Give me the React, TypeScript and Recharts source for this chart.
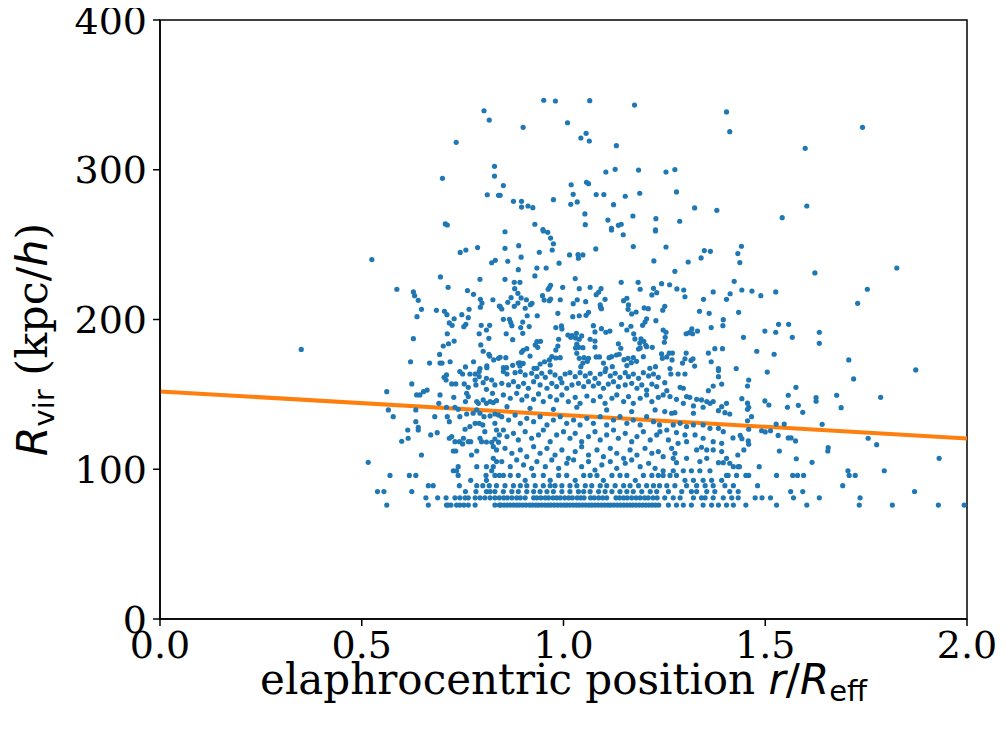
import { ScatterChart, Scatter, XAxis, YAxis, ReferenceLine, ReferenceArea } from "recharts";

// quantised R_vir levels seen as horizontal rows at the bottom of the cloud
const levels = [76.1, 80.9, 85.1, 89.0, 92.6, 95.9, 99.0];

const row76 = [0.562, 0.665, 0.71, 0.714, 0.721, 0.735, 0.743, 0.753, 0.764, 0.781, 0.83, 0.841,
  0.845, 0.853, 0.861, 0.868, 0.876, 0.884, 0.891, 0.899, 0.907, 0.916, 0.923, 0.931, 0.938, 0.946, 0.954,
  0.962, 0.969, 0.977, 0.985, 0.993, 1.001, 1.008, 1.016, 1.024, 1.032, 1.039, 1.047, 1.055, 1.063, 1.07,
  1.078, 1.086, 1.094, 1.102, 1.11, 1.117, 1.125, 1.133, 1.141, 1.149, 1.157, 1.165, 1.172, 1.18, 1.188,
  1.196, 1.204, 1.212, 1.22, 1.228, 1.236,
  1.26, 1.28, 1.297, 1.317, 1.346, 1.367, 1.384, 1.404, 1.421, 1.452, 1.528, 1.603, 1.733, 1.815, 1.929, 1.993];
const row81 = [0.659, 0.688, 0.709, 0.731, 0.743, 0.756, 0.764, 0.781, 0.793, 0.805, 0.818, 0.83, 0.841,
  0.852, 0.861, 0.872, 0.884, 0.893, 0.905, 0.926, 0.934, 0.944, 0.955, 0.963, 0.974, 0.983, 0.992, 1.003,
  1.013, 1.022, 1.034, 1.043, 1.051, 1.067, 1.076, 1.087, 1.097, 1.107, 1.13, 1.139, 1.149, 1.158, 1.169,
  1.18, 1.19, 1.201, 1.21, 1.222, 1.232,
  1.251, 1.272, 1.289, 1.322, 1.342, 1.351, 1.371, 1.396, 1.417, 1.433, 1.475, 1.492, 1.513, 1.57, 1.634, 1.735];
const row85 = [0.539, 0.555, 0.624, 0.757, 0.783, 0.809, 0.818, 0.83,
  0.851, 0.872, 0.888, 0.909, 0.926, 0.942, 0.959, 0.975, 0.996, 1.016, 1.037, 1.05, 1.066, 1.087, 1.103,
  1.12, 1.14, 1.157, 1.173, 1.194, 1.215, 1.231,
  1.26, 1.293, 1.317, 1.33, 1.355, 1.375, 1.412, 1.433, 1.563, 1.593, 1.87];
const row89 = [0.665, 0.677, 0.742, 0.785, 0.8, 0.816, 0.834,
  0.855, 0.876, 0.893, 0.909, 0.93, 0.95, 0.967, 0.979, 0.996, 1.016, 1.033, 1.054, 1.07, 1.091, 1.107,
  1.128, 1.149, 1.165, 1.186, 1.206, 1.223, 1.238,
  1.256, 1.276, 1.305, 1.33, 1.351, 1.371, 1.4, 1.421, 1.481, 1.692];
const row93 = [0.77, 0.809, 0.905, 0.967, 1.029, 1.099, 1.178, 1.301, 1.322, 1.346, 1.367, 1.392];
const row96 = [0.57, 0.618, 0.634, 0.739, 0.808, 0.83, 0.841,
  0.851, 0.868, 0.888, 0.926, 0.95, 0.988, 1.008, 1.05, 1.066, 1.083, 1.12, 1.14, 1.157, 1.198, 1.219, 1.235,
  1.247, 1.264, 1.28, 1.404, 1.408, 1.429, 1.452, 1.459, 1.528, 1.568, 1.58, 1.595, 1.708, 1.723];
const row99 = [0.727, 0.735, 0.822, 1.247, 1.272, 1.297, 1.317, 1.338, 1.363, 1.705, 1.795];
const levelRows = [row76, row81, row85, row89, row93, row96, row99];

// sparse upper part of the cloud (x = r/R_eff, y = R_vir)
const upperPoints = [
  [0.35, 180], [0.525, 240], [0.803, 339.4], [0.816, 333.2], [0.734, 318.3], [0.829, 302.3], [0.829, 295.8],
  [0.7, 294.3], [0.811, 283.3], [0.839, 282.9], [0.707, 263.8], [0.712, 263.1],
  [0.951, 346.4], [0.98, 345.9], [1.065, 346.1], [1.176, 343.2], [0.9, 328.3], [1.01, 331.4], [1.056, 324.3],
  [1.043, 321.2], [1.064, 319.2], [1.131, 316.1], [1.105, 298.5], [1.128, 300.3], [1.186, 299.8], [0.851, 289.4],
  [0.843, 282.9], [1.019, 290.0], [1.057, 291.6], [1.062, 290.7], [1.024, 283.6], [1.081, 283.4], [1.1, 283.4],
  [1.153, 282.3], [1.189, 284.3], [0.876, 278.9], [0.896, 278.9], [0.896, 275.1], [0.912, 275.8], [0.924, 274.7],
  [0.975, 280.0], [1.018, 276.9], [1.034, 278.5], [1.124, 276.7], [1.053, 270.5], [1.054, 263.3], [1.11, 266.4],
  [1.119, 260.9], [1.136, 262.9], [1.143, 263.6], [1.172, 269.1], [1.229, 267.3], [0.929, 263.6], [1.228, 259.8],
  [0.949, 260.0],
  [1.404, 338.6], [1.412, 325.4], [1.599, 314.3], [1.254, 298.5], [1.276, 300.1], [1.28, 285.2], [1.325, 274.5],
  [1.38, 272.9], [1.288, 265.6], [1.542, 268.0], [1.603, 275.8], [1.741, 328.3],
];

// middle band, roughly 165 < R_vir < 260
const middlePoints = [
  [0.587, 220.2], [0.628, 218.4], [0.631, 215.9], [0.64, 212.8], [0.648, 206.8], [0.637, 201.9], [0.628, 187.2],
  [0.621, 171.8], [0.668, 170.9], [0.694, 170.9], [0.699, 170.9], [0.693, 176.7], [0.719, 171.8], [0.695, 228.4],
  [0.714, 221.5], [0.744, 244.8], [0.758, 246.4], [0.787, 248], [0.822, 237.9], [0.831, 239.5], [0.793, 226.8],
  [0.762, 219.3], [0.777, 216.8], [0.794, 213.5], [0.798, 211.0], [0.794, 208.2], [0.825, 213.2], [0.841, 209.0],
  [0.685, 206.1], [0.705, 205.5], [0.711, 203.2], [0.729, 200.5], [0.748, 203.2], [0.766, 206.8], [0.764, 201.2],
  [0.717, 197.7], [0.724, 196.1], [0.758, 196.8], [0.753, 195.2], [0.796, 196.1], [0.809, 193.0], [0.817, 196.1],
  [0.791, 190.5], [0.815, 187.4], [0.712, 190.5], [0.715, 183.8], [0.729, 185.6], [0.702, 182.3], [0.795, 183.0],
  [0.801, 178.8], [0.815, 176.8], [0.817, 175.6], [0.827, 173.0], [0.839, 174.1], [0.757, 168.3], [0.777, 171.8],
  [0.793, 167.2], [0.81, 169.0], [0.81, 167.8],
  [0.855, 258.6], [0.95, 259.1], [0.961, 258.2], [0.968, 254.4], [0.975, 250.6], [0.972, 246.4], [0.889, 249.3],
  [0.855, 247.5], [0.895, 241.6], [0.862, 238.9], [0.94, 244.9], [1.015, 243.1], [1.036, 243.3], [1.037, 240.9],
  [1.048, 243.1], [1.08, 247.1], [1.119, 259.8], [1.148, 256.6], [1.173, 248.7], [1.228, 259.1], [1.224, 239.1],
  [0.989, 237.6], [0.934, 234.4], [0.957, 234.4], [0.888, 233.3], [0.929, 229.1], [0.855, 226.8], [0.878, 224.8],
  [0.892, 224.8], [0.879, 220.6], [1.029, 227.3], [0.965, 221.3], [0.968, 222.8], [0.962, 220.2], [0.998, 221.5],
  [1.039, 220.6], [1.066, 221.5], [1.143, 224.8], [1.185, 224.8], [1.19, 220.2], [1.223, 220.8], [1.231, 217.9],
  [1.219, 216.4], [1.087, 218.2], [1.093, 220.6], [1.081, 216.6], [1.103, 213.5], [1.091, 209.7], [1.094, 207.2],
  [1.055, 211.9], [1.034, 213.2], [1.024, 210.6], [0.992, 213.2], [0.948, 215.9], [0.952, 213.0], [0.965, 212.6],
  [0.968, 213.7], [0.87, 214.6], [0.862, 211.5], [0.878, 208.8], [0.887, 211.0], [0.887, 217.5], [0.895, 214.4],
  [0.908, 213.2], [0.905, 207.5], [0.918, 209.9], [0.922, 210.8], [0.843, 208.6], [0.847, 207.0], [0.91, 202.5],
  [0.935, 202.5], [0.986, 204.1], [1.023, 201.9], [1.039, 202.5], [1.056, 202.8], [1.062, 204.8], [1.092, 208.0],
  [1.149, 212.6], [1.157, 214.2], [1.161, 209.7], [1.16, 206.8], [1.169, 203.7], [1.18, 205.0], [1.2, 207.7],
  [1.21, 207.2], [1.206, 200.5], [1.202, 198.3], [1.196, 196.1], [1.229, 199.2], [0.851, 200.1], [0.866, 200.1],
  [0.869, 198.1], [0.872, 195.9], [0.899, 198.3], [0.894, 194.6], [0.915, 195.3], [0.858, 190.5], [0.874, 186.5],
  [0.899, 190.8], [0.981, 194.6], [0.995, 195.7], [0.996, 193.7], [1.021, 189.3], [1.032, 190.8], [1.03, 187.7],
  [1.039, 186.8], [1.045, 189.0], [1.074, 195.9], [1.078, 191.7], [1.094, 193.9], [1.105, 191.5], [1.115, 192.3],
  [1.144, 196.8], [1.157, 193.0], [1.167, 195.5], [1.174, 190.5], [1.136, 183.8], [1.142, 180.8], [1.177, 187.0],
  [1.189, 184.3], [1.192, 187.0], [1.199, 185.4], [1.204, 182.8], [1.186, 180.3], [1.19, 181.0], [1.206, 181.8],
  [1.22, 181.4], [0.934, 185.2], [0.943, 185.4], [0.93, 183.0], [0.936, 181.4], [0.9, 179.4], [0.909, 180.5],
  [0.896, 178.1], [0.917, 175.6], [0.874, 169.4], [0.888, 170.9], [0.892, 171.1], [0.892, 169.0], [0.9, 170.7],
  [0.857, 174.5], [0.843, 174.8], [0.927, 167.4], [0.934, 167.4], [0.942, 170.3], [0.953, 171.8], [0.965, 173.0],
  [0.967, 169.6], [0.971, 175.2], [0.981, 174.3], [0.992, 174.5], [0.981, 179.6], [0.986, 182.3], [0.988, 186.8],
  [1.011, 189.6], [1.018, 188.1], [1.033, 183.6], [1.038, 181.4], [1.03, 181.0], [1.048, 181.2], [1.033, 177.4],
  [1.039, 174.1], [1.051, 174.5], [1.062, 174.1], [1.059, 172.1], [1.048, 170.9], [1.043, 168.5], [1.066, 186.8],
  [1.078, 185.6], [1.078, 181.6], [1.081, 175], [1.089, 175], [1.119, 175.2], [1.113, 174.5], [1.131, 176.3],
  [1.138, 176.8], [1.15, 173.2], [1.16, 174.1], [1.173, 174.5], [1.157, 169.2], [1.168, 171.2], [1.181, 172.1],
  [1.198, 175.2], [1.214, 167.4], [0.851, 167.8], [0.859, 167.8], [1.099, 170.9], [1.105, 167.2], [1.121, 168.5],
  [1.228, 168.5],
  [1.254, 248.4], [1.349, 246.0], [1.364, 245.5], [1.441, 248.9], [1.432, 244.0], [1.437, 238.0], [1.309, 238.4],
  [1.341, 241.1], [1.276, 232.2], [1.623, 231.1], [1.243, 223.9], [1.263, 223.2], [1.281, 220.4], [1.298, 219.7],
  [1.301, 215.2], [1.423, 225.5], [1.371, 218.4], [1.413, 217.2], [1.404, 213.5], [1.442, 219.7], [1.467, 219.0],
  [1.489, 215.9], [1.526, 218.4], [1.347, 213.5], [1.251, 208.8], [1.246, 206.2], [1.337, 205.5], [1.361, 204.1],
  [1.434, 204.8], [1.396, 199.9], [1.395, 195.9], [1.366, 194.6], [1.247, 193.0], [1.254, 191.5], [1.252, 188.1],
  [1.25, 184.8], [1.304, 190.5], [1.312, 191.2], [1.318, 193.7], [1.32, 190.5], [1.332, 192.3], [1.533, 196.8],
  [1.558, 196.8], [1.499, 192.3], [1.526, 191.5], [1.567, 188.1], [1.446, 188.1], [1.634, 191.5], [1.634, 184.1],
  [1.375, 180.5], [1.394, 180.5], [1.359, 177.6], [1.479, 178.8], [1.522, 176.8], [1.243, 177], [1.245, 174.1],
  [1.256, 175], [1.262, 177.6], [1.27, 177.6], [1.269, 173], [1.304, 177.6], [1.301, 173.8], [1.316, 172.7],
  [1.321, 173.8], [1.295, 170.9], [1.325, 168.9], [1.366, 171.8], [1.384, 167.2], [1.428, 167.2], [1.264, 167.2],
  [1.826, 234.4], [1.753, 220.2], [1.729, 210.8], [1.707, 173.0], [1.873, 166.3],
];

// lower band, roughly 100 < R_vir < 165
const lowerPoints = [
  [0.562, 151.8], [0.566, 139.6], [0.578, 135.1], [0.624, 157.0], [0.636, 149.6], [0.644, 149.6], [0.653, 151.8],
  [0.662, 152.9], [0.634, 139.6], [0.634, 131.8], [0.64, 128.0], [0.64, 126.2], [0.614, 126.2], [0.615, 120.7],
  [0.599, 118.7], [0.671, 122.9], [0.687, 124.4], [0.694, 149.6], [0.691, 144.0], [0.681, 135.1], [0.648, 109.5],
  [0.516, 104.6], [0.71, 163.0], [0.704, 161.4], [0.709, 159.6], [0.723, 157.0], [0.733, 157.0], [0.743, 165.2],
  [0.75, 163.6], [0.768, 163.6], [0.781, 163.6], [0.791, 165.2], [0.791, 161.9], [0.754, 157], [0.764, 154.7],
  [0.76, 150.7], [0.781, 159.6], [0.783, 156.3], [0.801, 157.8], [0.809, 160.7], [0.822, 159.6], [0.83, 156.3],
  [0.809, 153.4], [0.824, 150.7], [0.728, 148.0], [0.757, 145.2], [0.764, 148.5], [0.71, 141.4], [0.731, 141.4],
  [0.739, 140.0], [0.785, 145.2], [0.789, 144.0], [0.801, 146.3], [0.809, 144.0], [0.818, 145.2], [0.826, 144.5],
  [0.834, 145.8], [0.712, 135.1], [0.717, 131.8], [0.743, 135.1], [0.76, 136.9], [0.776, 137.4], [0.785, 139.6],
  [0.793, 137.4], [0.803, 135.1], [0.818, 135.6], [0.83, 136.9], [0.839, 136.2], [0.723, 121.8], [0.717, 120.7],
  [0.731, 118.4], [0.742, 118.4], [0.752, 120.7], [0.75, 116.9], [0.764, 118.4], [0.77, 118.4], [0.756, 126.7],
  [0.768, 128.5], [0.781, 130.7], [0.791, 130.7], [0.8, 129.6], [0.805, 125.1], [0.793, 120.7], [0.797, 118.4],
  [0.809, 118.2], [0.822, 118.0], [0.83, 120.2], [0.839, 118.1], [0.826, 115.1], [0.834, 112.9], [0.83, 130.7],
  [0.834, 126.2], [0.841, 122.9], [0.727, 112.2], [0.733, 112.2], [0.785, 112.2], [0.772, 109.5], [0.826, 107.3],
  [0.834, 105.1], [0.826, 101.7], [0.739, 101.7], [0.785, 101.7], [0.809, 101.7],
  [0.851, 165.2], [0.86, 163.6], [0.88, 164.5], [0.893, 165.2], [0.905, 163.0], [0.921, 164.1], [0.934, 161.8],
  [0.946, 164.1], [0.955, 161.4], [0.967, 165.0], [0.979, 163.0], [0.992, 160.7], [1.004, 163.6], [1.016, 164.5],
  [1.029, 161.8], [1.041, 164.5], [1.054, 162.3], [1.066, 164.1], [1.078, 160.7], [1.091, 163.6], [1.103, 165.2],
  [1.116, 162.3], [1.128, 164.1], [1.14, 161.4], [1.153, 164.5], [1.161, 161.8], [1.173, 163.6], [1.186, 160.7],
  [1.198, 164.5], [1.211, 162.3], [1.223, 163.6], [1.235, 161.4],
  [0.847, 157.4], [0.864, 156.3], [0.876, 158.5], [0.888, 155.2], [0.901, 157.4], [0.913, 154.1], [0.926, 158.5],
  [0.942, 156.3], [0.959, 154.1], [0.971, 157.4], [0.983, 155.2], [0.996, 157.8], [1.008, 154.1], [1.021, 156.3],
  [1.037, 157.4], [1.05, 155.2], [1.062, 158.5], [1.074, 155.6], [1.087, 157.4], [1.099, 154.1], [1.111, 156.9],
  [1.124, 158.5], [1.136, 155.2], [1.153, 156.3], [1.169, 157.4], [1.182, 154.1], [1.194, 156.3], [1.206, 152.9],
  [1.219, 156.9], [1.231, 155.2],
  [0.851, 149.6], [0.868, 147.4], [0.884, 150.7], [0.897, 146.3], [0.909, 148.9], [0.926, 146.7], [0.938, 150.3],
  [0.95, 145.2], [0.967, 148.5], [0.983, 146.3], [0.996, 149.6], [1.012, 145.2], [1.029, 148.0], [1.041, 144.0],
  [1.058, 148.9], [1.074, 145.8], [1.091, 148.5], [1.103, 144.0], [1.12, 147.4], [1.132, 149.6], [1.149, 145.2],
  [1.161, 148.5], [1.173, 144.0], [1.19, 147.4], [1.206, 149.6], [1.219, 145.2], [1.235, 148.0],
  [0.86, 141.8], [0.917, 140.7], [0.975, 140.0], [1.033, 141.4], [1.107, 139.6], [1.169, 138.5], [1.227, 139.6],
  [0.847, 135.1], [0.864, 132.9], [0.88, 136.2], [0.893, 130.7], [0.909, 134.0], [0.926, 131.8], [0.942, 135.1],
  [0.959, 129.6], [0.975, 132.9], [0.992, 135.1], [1.008, 130.7], [1.025, 132.9], [1.041, 129.6], [1.058, 134.0],
  [1.074, 130.7], [1.091, 135.1], [1.107, 129.6], [1.124, 132.9], [1.14, 135.1], [1.157, 130.7], [1.173, 132.9],
  [1.19, 129.6], [1.206, 135.1], [1.223, 131.8], [1.238, 129.6],
  [0.851, 126.2], [0.86, 121.8], [0.876, 124.0], [0.888, 119.6], [0.905, 125.1], [0.921, 120.7], [0.938, 122.9],
  [0.95, 126.2], [0.967, 118.4], [0.983, 122.9], [1.0, 125.1], [1.016, 120.7], [1.029, 124.0], [1.045, 118.4],
  [1.062, 121.8], [1.078, 125.1], [1.091, 119.6], [1.107, 122.9], [1.124, 126.2], [1.136, 120.7], [1.153, 124.0],
  [1.169, 118.4], [1.182, 121.8], [1.198, 125.1], [1.215, 119.6], [1.231, 122.9],
  [0.855, 114.0], [0.872, 110.7], [0.893, 112.9], [0.909, 108.4], [0.926, 115.1], [0.942, 110.7], [0.959, 114.0],
  [0.979, 109.5], [0.996, 112.9], [1.012, 107.3], [1.029, 111.8], [1.045, 115.1], [1.062, 109.5], [1.083, 112.9],
  [1.099, 108.4], [1.116, 114.0], [1.132, 110.7], [1.149, 107.3], [1.165, 112.9], [1.182, 109.5], [1.202, 114.0],
  [1.219, 110.7], [1.235, 111.8],
  [0.847, 105.1], [0.868, 101.7], [0.884, 106.2], [0.901, 102.9], [0.921, 100.6], [0.934, 105.1], [0.955, 101.7],
  [0.971, 106.2], [0.988, 100.6], [1.008, 104.0], [1.025, 106.2], [1.045, 101.7], [1.062, 105.1], [1.078, 99.5],
  [1.095, 102.9], [1.116, 105.1], [1.132, 100.6], [1.153, 104.0], [1.169, 106.2], [1.19, 101.7], [1.211, 104.0],
  [1.227, 100.6],
  [1.266, 163.6], [1.284, 163.6], [1.301, 163.6], [1.251, 157.8], [1.289, 154.7], [1.297, 154.1], [1.384, 161.8],
  [1.384, 165.9], [1.392, 156.9], [1.371, 155.6], [1.359, 152.5], [1.256, 152.5], [1.247, 149.6], [1.264, 148.5],
  [1.28, 146.7], [1.305, 148.5], [1.313, 148.0], [1.33, 146.7], [1.342, 146.3], [1.355, 145.2], [1.371, 145.2],
  [1.297, 144.0], [1.322, 142.3], [1.346, 141.4], [1.363, 144.0], [1.392, 141.8], [1.404, 144.0], [1.384, 139.1],
  [1.4, 137.8], [1.412, 136.9], [1.251, 138.5], [1.268, 137.4], [1.276, 137.8], [1.322, 137.4], [1.272, 129.6],
  [1.289, 130.7], [1.305, 128.5], [1.322, 129.6], [1.346, 129.6], [1.363, 127.3], [1.384, 127.3], [1.396, 125.1],
  [1.239, 125.1], [1.256, 126.2], [1.28, 124.5], [1.301, 122.9], [1.326, 122.9], [1.26, 119.6], [1.284, 117.3],
  [1.305, 118.4], [1.346, 120.7], [1.371, 118.4], [1.392, 117.3], [1.268, 114.0], [1.276, 110.7], [1.305, 107.3],
  [1.33, 112.9], [1.342, 114.7], [1.355, 112.9], [1.371, 112.9], [1.392, 111.8], [1.404, 107.3], [1.247, 108.4],
  [1.272, 107.3], [1.28, 104.4], [1.338, 105.1], [1.355, 107.3], [1.384, 104.4], [1.396, 104.4], [1.412, 104.0],
  [1.421, 101.7], [1.433, 101.7],
  [1.505, 164.9], [1.576, 154.7], [1.557, 149.4], [1.499, 145.6], [1.509, 142.9], [1.555, 141.4], [1.582, 142.7],
  [1.593, 138.0], [1.527, 130.2], [1.547, 130.2], [1.532, 122.6], [1.557, 120.9], [1.564, 120.9], [1.575, 118.9],
  [1.459, 126.7], [1.491, 125.7], [1.5, 124.9], [1.513, 125.7], [1.456, 132.4], [1.466, 135.1], [1.456, 140.0],
  [1.459, 141.4], [1.456, 144.1], [1.459, 159.6], [1.456, 155.6], [1.442, 147.1], [1.535, 112.2], [1.577, 107.0],
  [1.616, 104.6], [1.485, 101.7], [1.436, 101.7], [1.432, 109.5], [1.42, 120.9], [1.438, 122.6], [1.442, 120.4],
  [1.458, 118.9], [1.459, 116.7], [1.447, 112.9],
  [1.719, 160.3], [1.626, 147.8], [1.626, 145.4], [1.677, 149.4], [1.688, 141.1], [1.786, 148.0], [1.641, 130.0],
  [1.755, 120.7], [1.776, 116.4], [1.656, 114.4], [1.655, 112.2], [1.931, 107.3],
];

// least-squares fit shown in orange: value at x = 0 and x = 2
const fitX = [0, 2];
const fitY = [152, 120.5];

const xTicks = [0, 0.5, 1, 1.5, 2];
const yTicks = [0, 100, 200, 300, 400];

const scatterData = [
  ...levelRows.flatMap((row, i) => row.map((x) => ({ x, y: levels[i] }))),
  ...upperPoints.map(([x, y]) => ({ x, y })),
  ...middlePoints.map(([x, y]) => ({ x, y })),
  ...lowerPoints.map(([x, y]) => ({ x, y })),
];

const serif = "DejaVu Serif";
const sans = "DejaVu Sans";
const TICK_FS = 38;
const LABEL_FS = 42;
const SUB_FS = 29;

const Dot = (props: any) => <circle cx={props.cx} cy={props.cy} r={2.6} fill="#1f77b4" />;

const XTick = ({ x, y, payload }: any) => (
  <text x={x} y={y} dy="0.71em" textAnchor="middle" fill="#000" style={{ fontFamily: serif, fontSize: TICK_FS }}>
    {payload.value.toFixed(1)}
  </text>
);

const YTick = ({ x, y, payload }: any) => (
  <text x={x} y={y} dy="0.36em" textAnchor="end" fill="#000" style={{ fontFamily: serif, fontSize: TICK_FS }}>
    {payload.value}
  </text>
);

const XLabel = ({ viewBox }: any) => {
  const cx = viewBox.x + viewBox.width / 2;
  return (
    <text x={cx} y={viewBox.y + 75} textAnchor="middle" style={{ fontFamily: serif, fontSize: LABEL_FS }} fill="#000">
      elaphrocentric position{" "}
      <tspan style={{ fontFamily: sans, fontStyle: "oblique" }}>r</tspan>
      <tspan style={{ fontFamily: sans }}>/</tspan>
      <tspan style={{ fontFamily: sans, fontStyle: "oblique" }}>R</tspan>
      <tspan style={{ fontFamily: sans, fontSize: SUB_FS }} dy={7}>eff</tspan>
    </text>
  );
};

const YLabel = ({ viewBox }: any) => {
  const cy = viewBox.y + viewBox.height / 2 + 20;
  const x = 39;
  return (
    <text x={x} y={cy} transform={`rotate(-90 ${x} ${cy})`} textAnchor="middle" style={{ fontFamily: serif, fontSize: 43 }} fill="#000">
      <tspan style={{ fontFamily: sans, fontStyle: "oblique" }}>R</tspan>
      <tspan style={{ fontFamily: sans, fontSize: SUB_FS }} dy={7}>vir</tspan>
      <tspan dy={-7}> (kpc/</tspan>
      <tspan style={{ fontFamily: sans, fontStyle: "oblique" }}>h</tspan>
      <tspan>)</tspan>
    </text>
  );
};

export default function App() {
  return (
    <div style={{ marginTop: -8 }}>
      <ScatterChart width={990} height={728} margin={{ top: 20, right: 31, bottom: 0, left: 0 }}>
        <XAxis
          type="number"
          dataKey="x"
          domain={[0, 2]}
          ticks={xTicks}
          height={109}
          tickSize={7}
          tickMargin={5}
          stroke="#000"
          strokeWidth={1.5}
          tick={<XTick />}
          label={<XLabel />}
        />
        <YAxis
          type="number"
          dataKey="y"
          domain={[0, 400]}
          ticks={yTicks}
          width={152}
          tickSize={7}
          tickMargin={6}
          stroke="#000"
          strokeWidth={1.5}
          tick={<YTick />}
          label={<YLabel />}
        />
        <ReferenceArea x1={0} x2={2} y1={0} y2={400} fill="none" stroke="#000" strokeWidth={1.5} />
        <Scatter data={scatterData} fill="#1f77b4" shape={<Dot />} isAnimationActive={false} />
        <ReferenceLine
          segment={[{ x: fitX[0], y: fitY[0] }, { x: fitX[1], y: fitY[1] }]}
          stroke="#ff7f0e"
          strokeWidth={4}
        />
      </ScatterChart>
    </div>
  );
}
